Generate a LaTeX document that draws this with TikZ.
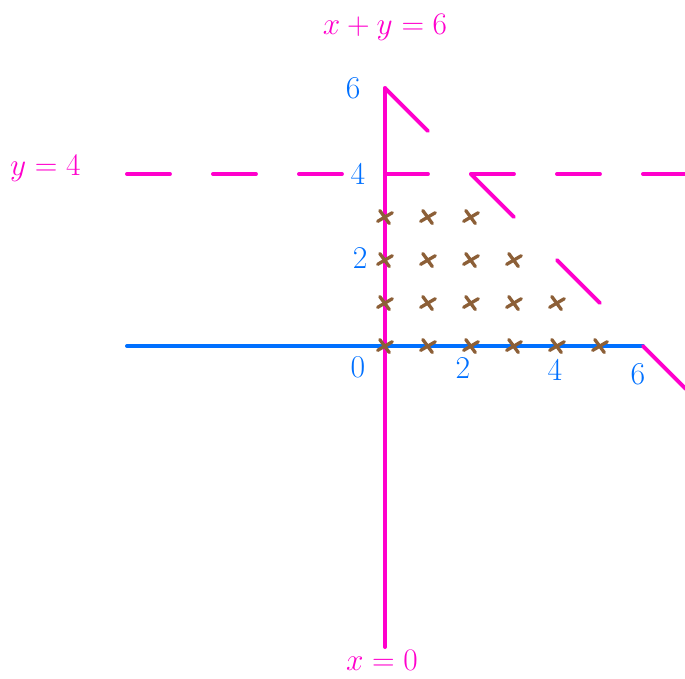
\documentclass[tikz,border=0pt]{standalone}
\usepackage{amsmath}
\usepackage{tikz}
\definecolor{pen}{RGB}{255,0,204}
\definecolor{axisblue}{RGB}{0,112,255}
\definecolor{dotbrown}{RGB}{140,95,55}

\begin{document}
\begin{tikzpicture}[scale=1, line cap=round,
        pinkline/.style={pen, line width=2.6pt},
        lab/.style={axisblue, font=\fontsize{21}{24}\selectfont},
        eqlab/.style={pen, font=\fontsize{20}{24}\selectfont},
        cross/.style={dotbrown, line width=2.2pt}]
        \useasboundingbox (-8.953,-7.721) rectangle (6.977,8.047);
        \coordinate (L) at (-6,0);  \coordinate (R) at (6,0);
        \coordinate (T) at (0,6);   \coordinate (B) at (0,-7);
        \draw[axisblue, line width=2.6pt] (L)--(R);
        \draw[pinkline] (T)--(B);
        % y = 4
        \foreach \k in {-3,...,3}
            \draw[pinkline] (2*\k,4)--(2*\k+1,4);
        % x + y = 6
        \foreach \k in {0,...,3}
            \draw[pinkline] (2*\k,6-2*\k)--(2*\k+1,5-2*\k);
        % lattice points
        \foreach \j in {0,...,3}{
            \pgfmathtruncatemacro{\last}{5-\j}
            \foreach \i in {0,...,\last}{
                \draw[cross] (\i-0.17,\j-0.1)--(\i+0.17,\j+0.1);
                \draw[cross] (\i-0.12,\j+0.15)--(\i+0.1,\j-0.15);
            }
        }
        \foreach \n/\x/\y/\t in {y6/-0.74/6/6, y4/-0.63/4/4, y2/-0.58/2.05/2, o/-0.63/-0.49/0,
                x2/1.81/-0.51/2, x4/3.95/-0.56/4, x6/5.88/-0.65/6}
            \node[lab] (\n) at (\x,\y) {\t};
        \node[eqlab] (diag) at (0,7.42) {$x+y=6$};
        \node[eqlab] (horiz) at (-7.9,4.14) {$y=4$};
        \node[eqlab] (vert) at (-0.07,-7.3) {$x=0$};
    \end{tikzpicture}
\end{document}
